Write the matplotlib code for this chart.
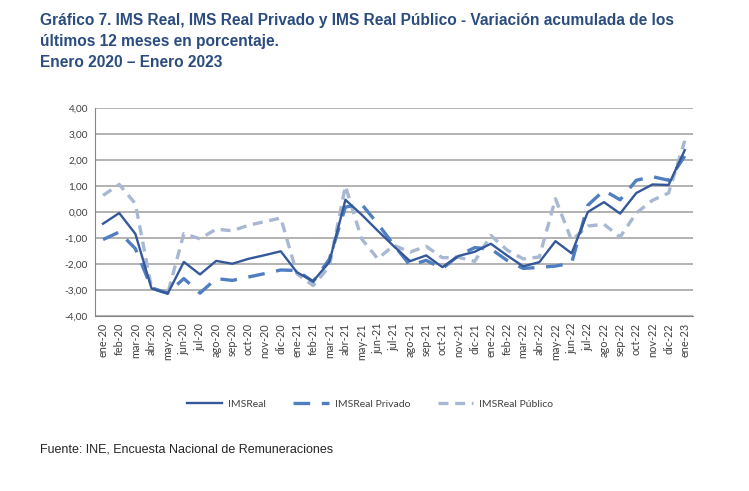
import matplotlib.pyplot as plt
from matplotlib.ticker import FuncFormatter

meses = ["ene", "feb", "mar", "abr", "may", "jun", "jul", "ago", "sep", "oct", "nov", "dic"]
labels = [f"{m}-{a}" for a in ["20", "21", "22"] for m in meses] + ["ene-23"]

ims_real = [-0.45, -0.04, -0.84, -2.94, -3.14, -1.92, -2.40, -1.88, -1.99, -1.80, -1.66, -1.51,
            -2.32, -2.66, -1.93, 0.47, -0.10, -0.72, -1.32, -1.89, -1.67, -2.12, -1.69, -1.53,
            -1.22, -1.67, -2.09, -1.93, -1.12, -1.59, 0.00, 0.38, -0.06, 0.73, 1.06, 1.04, 2.38]

ims_privado = [-1.06, -0.77, -1.41, -2.92, -3.12, -2.56, -3.12, -2.56, -2.63, -2.50, -2.37, -2.23,
               -2.25, -2.68, -1.82, 0.19, 0.30, -0.45, -1.27, -2.05, -1.86, -2.18, -1.67, -1.37,
               -1.42, -1.86, -2.17, -2.13, -2.08, -1.96, 0.26, 0.83, 0.47, 1.22, 1.36, 1.22, 2.15]

ims_publico = [0.64, 1.06, 0.32, -2.92, -3.14, -0.83, -1.03, -0.66, -0.72, -0.51, -0.37, -0.23,
               -2.38, -2.83, -2.10, 1.00, -1.03, -1.80, -1.28, -1.54, -1.32, -1.76, -1.74, -1.90,
               -0.90, -1.46, -1.80, -1.73, 0.51, -1.09, -0.54, -0.47, -0.96, -0.04, 0.45, 0.73, 2.74]

fig = plt.figure(figsize=(7.49, 4.91), dpi=100)
ax = fig.add_axes([0.1268, 0.3564, 0.7982, 0.4236])

x = range(len(labels))
ax.plot(x, ims_real, color="#34589A", lw=1.7, label="IMSReal", zorder=4)
ax.plot(x, ims_privado, color="#4F7FC0", lw=2.4, dashes=(5, 3.5), label="IMSReal Privado", zorder=3)
ax.plot(x, ims_publico, color="#A8B8D2", lw=2.4, dashes=(3, 2), label="IMSReal Público", zorder=2)

ax.set_ylim(-4, 4)
ax.set_yticks(range(-4, 5))
ax.yaxis.set_major_formatter(FuncFormatter(lambda v, p: f"{v:.2f}".replace(".", ",")))
ax.set_xlim(-0.5, len(labels) - 0.5)
ax.set_xticks(list(x))
ax.set_xticklabels(labels, rotation=90)
ax.grid(axis="y", color="#A6A6A6", lw=1.2)
ax.set_axisbelow(True)
for s in ["top", "right"]:
    ax.spines[s].set_visible(False)
ax.spines["left"].set_color("#868686")
ax.spines["bottom"].set_color("#868686")
ax.tick_params(axis="y", length=0, labelsize=7.2, labelcolor="#404040", pad=5)
ax.tick_params(axis="x", length=0, labelsize=7.8, labelcolor="#404040", pad=5)
for t in ax.get_xticklabels() + ax.get_yticklabels():
    t.set_family("Lato")

leg = ax.legend(loc="center", bbox_to_anchor=(0.46, -0.423), ncol=3, frameon=False,
                prop={"family": "Lato", "size": 7.5}, handlelength=3.4, columnspacing=2.6,
                handletextpad=0.6)
for t in leg.get_texts():
    t.set_color("#404040")

title = ("Gráfico 7. IMS Real, IMS Real Privado y IMS Real Público - Variación acumulada de los\n"
         "últimos 12 meses en porcentaje.\n"
         "Enero 2020 – Enero 2023")
fig.text(40 / 749, 1 - 13 / 491, title, ha="left", va="top", fontsize=11.2, fontweight="bold",
         color="#2B4C7E", family="Liberation Sans", linespacing=1.5)

fig.text(40 / 749, 1 - 449 / 491, "Fuente: INE, Encuesta Nacional de Remuneraciones",
         ha="left", va="center", fontsize=9, color="#262626", family="Liberation Sans")

fig.savefig("out.png", dpi=100)
